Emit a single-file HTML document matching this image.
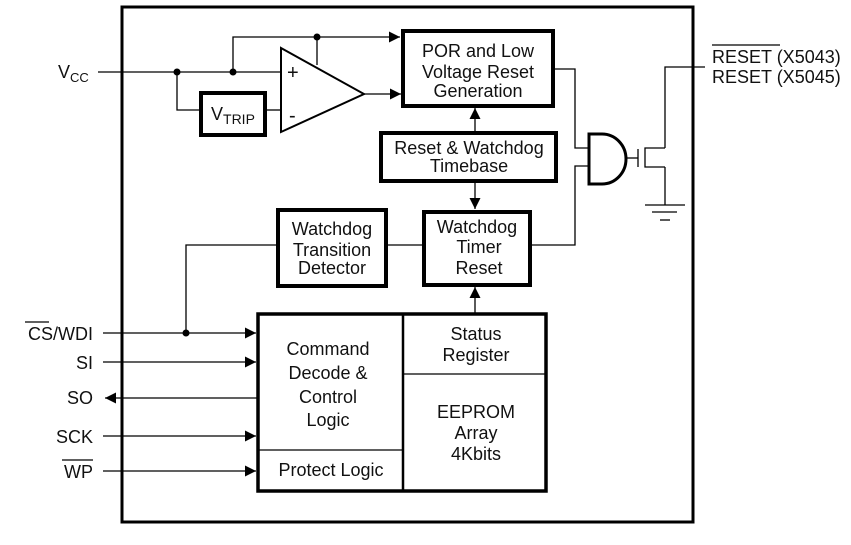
<!DOCTYPE html>
<html><head><style>
body{margin:0;background:#fff}
svg text{font-family:"Liberation Sans",Arial,sans-serif;fill:#111}
</style></head><body>
<svg width="851" height="540" viewBox="0 0 851 540" xmlns="http://www.w3.org/2000/svg">
<defs>
<marker id="a" viewBox="0 0 10 10" refX="10" refY="5" markerWidth="11" markerHeight="11" markerUnits="userSpaceOnUse" orient="auto"><path d="M0,0L10,5L0,10z" fill="#000"/></marker>
</defs>
<g fill="none" stroke="#000">
<rect x="122" y="7" width="571" height="515" stroke-width="3"/>
<line x1="98" y1="72" x2="281" y2="72" stroke-width="1.3"/>
<polyline points="177,72 177,110 201,110" stroke-width="1.3"/>
<line x1="265" y1="110" x2="281" y2="110" stroke-width="1.3"/>
<polyline points="233,72 233,37 400,37" stroke-width="1.3" marker-end="url(#a)"/>
<line x1="317" y1="37" x2="317" y2="65" stroke-width="1.3"/>
<rect x="201" y="93" width="64" height="42" stroke-width="4"/>
<polygon points="281,48 364,94 281,132" stroke-width="2"/>
<line x1="364" y1="94" x2="401" y2="94" stroke-width="1.3" marker-end="url(#a)"/>
<rect x="403" y="31" width="150" height="75" stroke-width="4"/>
<rect x="381" y="133" width="175" height="48" stroke-width="4"/>
<line x1="475" y1="133" x2="475" y2="108" stroke-width="1.3" marker-end="url(#a)"/>
<line x1="475" y1="182" x2="475" y2="209" stroke-width="1.3" marker-end="url(#a)"/>
<rect x="278" y="210" width="108" height="76" stroke-width="4"/>
<rect x="424" y="212" width="106" height="73" stroke-width="4"/>
<line x1="475" y1="313" x2="475" y2="287" stroke-width="1.3" marker-end="url(#a)"/>
<line x1="386" y1="245" x2="424" y2="245" stroke-width="1.3"/>
<polyline points="530,245 575,245 575,166 589,166" stroke-width="1.3"/>
<polyline points="553,69 575,69 575,148 589,148" stroke-width="1.3"/>
<path d="M589,134 L602,134 A24,25 0 0 1 602,184 L589,184 Z" stroke-width="3"/>
<line x1="626" y1="158" x2="638" y2="158" stroke-width="1.3"/>
<line x1="638" y1="149" x2="638" y2="167" stroke-width="1.3"/>
<polyline points="665,148 645,148 645,167 665,167" stroke-width="1.3"/>
<polyline points="665,148 665,67 705,67" stroke-width="1.3"/>
<line x1="665" y1="167" x2="665" y2="205" stroke-width="1.3"/>
<line x1="645" y1="205" x2="685" y2="205" stroke-width="1.3"/>
<line x1="652" y1="212" x2="677" y2="212" stroke-width="1.3"/>
<line x1="660" y1="220" x2="670" y2="220" stroke-width="1.3"/>
<rect x="258" y="314" width="288" height="177" stroke-width="3.5"/>
<line x1="403" y1="314" x2="403" y2="491" stroke-width="2.5"/>
<line x1="403" y1="374" x2="546" y2="374" stroke-width="1.3"/>
<line x1="258" y1="450" x2="403" y2="450" stroke-width="1.3"/>
<line x1="103" y1="333" x2="256" y2="333" stroke-width="1.3" marker-end="url(#a)"/>
<polyline points="186,333 186,245 278,245" stroke-width="1.3"/>
<line x1="103" y1="362" x2="256" y2="362" stroke-width="1.3" marker-end="url(#a)"/>
<line x1="258" y1="398" x2="105" y2="398" stroke-width="1.3" marker-end="url(#a)"/>
<line x1="103" y1="436" x2="256" y2="436" stroke-width="1.3" marker-end="url(#a)"/>
<line x1="103" y1="471" x2="256" y2="471" stroke-width="1.3" marker-end="url(#a)"/>
</g>
<g fill="#000">
<circle cx="177" cy="72" r="3.5"/><circle cx="233" cy="72" r="3.5"/><circle cx="317" cy="37" r="3.5"/><circle cx="186" cy="333" r="3.5"/>
</g>
<g font-size="18">
<text x="58" y="78">V<tspan font-size="13" dy="4">CC</tspan></text>
<text x="211" y="120">V<tspan font-size="14" dy="4">TRIP</tspan></text>
<text x="287" y="79" font-size="20">+</text>
<text x="289" y="122" font-size="20">-</text>
<text text-anchor="middle" x="478" y="57">POR and Low</text>
<text text-anchor="middle" x="478" y="78">Voltage Reset</text>
<text text-anchor="middle" x="478" y="97">Generation</text>
<text text-anchor="middle" x="469" y="154">Reset &amp; Watchdog</text>
<text text-anchor="middle" x="469" y="172">Timebase</text>
<text text-anchor="middle" x="332" y="235">Watchdog</text>
<text text-anchor="middle" x="332" y="256">Transition</text>
<text text-anchor="middle" x="332" y="274">Detector</text>
<text text-anchor="middle" x="477" y="233">Watchdog</text>
<text text-anchor="middle" x="479" y="253">Timer</text>
<text text-anchor="middle" x="479" y="274">Reset</text>
<text text-anchor="middle" x="328" y="355">Command</text>
<text text-anchor="middle" x="328" y="379">Decode &amp;</text>
<text text-anchor="middle" x="328" y="403">Control</text>
<text text-anchor="middle" x="328" y="426">Logic</text>
<text text-anchor="middle" x="331" y="476">Protect Logic</text>
<text text-anchor="middle" x="476" y="340">Status</text>
<text text-anchor="middle" x="476" y="361">Register</text>
<text text-anchor="middle" x="476" y="418">EEPROM</text>
<text text-anchor="middle" x="476" y="439">Array</text>
<text text-anchor="middle" x="476" y="460">4Kbits</text>
<text text-anchor="end" x="93" y="340">CS/WDI</text>
<text text-anchor="end" x="93" y="369">SI</text>
<text text-anchor="end" x="93" y="404">SO</text>
<text text-anchor="end" x="93" y="443">SCK</text>
<text text-anchor="end" x="93" y="478">WP</text>
<text x="712" y="63">RESET (X5043)</text>
<text x="712" y="83">RESET (X5045)</text>
</g>
<g stroke="#000" stroke-width="1.2">
<line x1="25" y1="322" x2="49" y2="322"/>
<line x1="62" y1="460" x2="93" y2="460"/>
<line x1="712" y1="45" x2="780" y2="45"/>
</g>
</svg>
</body></html>
